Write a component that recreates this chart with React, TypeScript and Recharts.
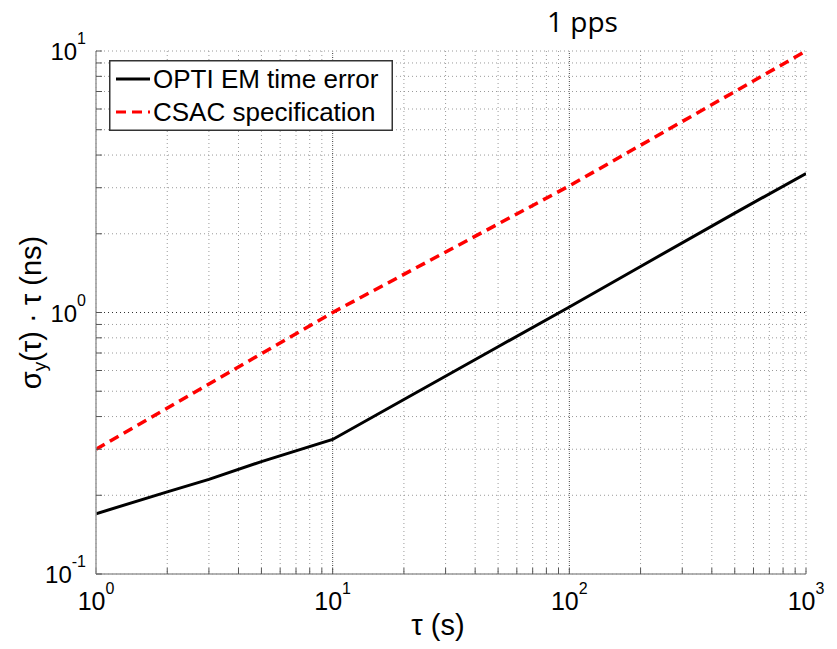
import {
  CartesianGrid,
  Legend,
  Line,
  LineChart,
  ReferenceLine,
  XAxis,
  YAxis,
} from "recharts";

const FONT = '"Liberation Sans", Arial, sans-serif';

// tau (s) and sigma_y(tau)*tau (ns)
const tauOpti = [1, 2, 3, 5, 10, 20, 50, 100, 200, 500, 1000];
const optiError = [0.17, 0.206, 0.23, 0.269, 0.327, 0.465, 0.74, 1.05, 1.5, 2.4, 3.4];

const tauCsac = [1, 10, 100, 1000];
const csacSpec = [0.3, 1.0, 3.05, 10];

const seriesNames = ["OPTI EM time error", "CSAC specification"];

const xTicks = [
  1, 2, 3, 4, 5, 6, 7, 8, 9, 10, 20, 30, 40, 50, 60, 70, 80, 90, 100, 200,
  300, 400, 500, 600, 700, 800, 900, 1000,
];
const yTicks = [
  0.1, 0.2, 0.3, 0.4, 0.5, 0.6, 0.7, 0.8, 0.9, 1, 2, 3, 4, 5, 6, 7, 8, 9, 10,
];
const xMajors = [10, 100];
const yMajors = [1];

const optiData = tauOpti.map((t, i) => ({ tau: t, v: optiError[i] }));
const csacData = tauCsac.map((t, i) => ({ tau: t, v: csacSpec[i] }));

const exponentOf = (v: number) => {
  const e = Math.log10(v);
  const r = Math.round(e);
  return Math.abs(e - r) < 1e-6 ? r : null;
};

function XTick({ x, y, payload }: any) {
  const e = exponentOf(payload.value);
  if (e === null) return null;
  return (
    <text x={x} y={y} dy={18} textAnchor="middle" fontFamily={FONT} fontSize={25} fill="#000">
      10
      <tspan dy={-16} fontSize={16}>
        {e}
      </tspan>
    </text>
  );
}

function YTick({ x, y, payload }: any) {
  const e = exponentOf(payload.value);
  if (e === null) return null;
  return (
    <text x={x} y={y} dy={9} textAnchor="end" fontFamily={FONT} fontSize={24} fill="#000">
      10
      <tspan dy={-16} fontSize={16}>
        {e}
      </tspan>
    </text>
  );
}

function YLabel({ viewBox }: any) {
  const cx = viewBox.x + 31;
  const cy = viewBox.y + viewBox.height / 2;
  return (
    <text
      x={cx}
      y={cy}
      transform={`rotate(-90, ${cx}, ${cy})`}
      textAnchor="middle"
      dominantBaseline="central"
      fontFamily={FONT}
      fontSize={29}
      fill="#000"
    >
      σ
      <tspan dy={8} fontSize={19}>
        y
      </tspan>
      <tspan dy={-8}>(τ) · τ (ns)</tspan>
    </text>
  );
}

function XLabel({ viewBox }: any) {
  return (
    <text
      x={viewBox.x + viewBox.width / 2 - 13}
      y={635}
      textAnchor="middle"
      fontFamily={FONT}
      fontSize={29}
      fill="#000"
    >
      τ (s)
    </text>
  );
}

function LegendBox({ payload }: any) {
  const rows = [...(payload || [])].sort(
    (a: any, b: any) => seriesNames.indexOf(a.value) - seriesNames.indexOf(b.value)
  );
  return (
    <svg width={284} height={71} style={{ display: "block" }}>
      <rect x={0.75} y={0.75} width={282.5} height={69.5} fill="#fff" stroke="#333" strokeWidth={1.5} />
      {rows.map((entry: any, i: number) => {
        const cy = 19 + i * 33;
        return (
          <g key={entry.value}>
            <line
              x1={7}
              x2={41}
              y1={cy}
              y2={cy}
              stroke={entry.color}
              strokeWidth={3}
              strokeDasharray={entry.payload?.strokeDasharray}
            />
            <text x={44} y={cy} dy={9} fontFamily={FONT} fontSize={26} fill="#000">
              {entry.value}
            </text>
          </g>
        );
      })}
    </svg>
  );
}

export default function App() {
  return (
    <div style={{ position: "absolute", left: 0, top: 0, width: 837, height: 649, background: "#fff" }}>
      <LineChart width={837} height={649} margin={{ top: 51, right: 31, bottom: 0, left: 0 }}>
        <CartesianGrid stroke="#9a9a9a" strokeDasharray="1 3" />
        {xMajors.map((v) => (
          <ReferenceLine key={`x${v}`} x={v} stroke="#333" strokeDasharray="1 3" />
        ))}
        {yMajors.map((v) => (
          <ReferenceLine key={`y${v}`} y={v} stroke="#333" strokeDasharray="1 3" />
        ))}
        <XAxis
          dataKey="tau"
          type="number"
          scale="log"
          domain={[1, 1000]}
          allowDataOverflow
          ticks={xTicks}
          interval={0}
          height={75}
          tickSize={-6}
          tickMargin={24}
          tick={<XTick />}
          axisLine={{ stroke: "#999", strokeWidth: 1.5 }}
          tickLine={{ stroke: "#555" }}
          label={<XLabel />}
        />
        <XAxis
          xAxisId="top"
          orientation="top"
          type="number"
          scale="log"
          domain={[1, 1000]}
          allowDataOverflow
          ticks={xTicks}
          interval={0}
          height={0}
          tickSize={-6}
          tick={false}
          axisLine={{ stroke: "#444", strokeWidth: 1.5 }}
          tickLine={{ stroke: "#444" }}
        />
        <YAxis
          type="number"
          scale="log"
          domain={[0.1, 10]}
          allowDataOverflow
          ticks={yTicks}
          interval={0}
          width={96}
          tickSize={-6}
          tickMargin={16}
          tick={<YTick />}
          axisLine={{ stroke: "#999", strokeWidth: 1.5 }}
          tickLine={{ stroke: "#555" }}
          label={<YLabel />}
        />
        <YAxis
          yAxisId="right"
          orientation="right"
          type="number"
          scale="log"
          domain={[0.1, 10]}
          allowDataOverflow
          ticks={yTicks}
          interval={0}
          width={0}
          tickSize={-6}
          tick={false}
          axisLine={{ stroke: "#444", strokeWidth: 1.5 }}
          tickLine={{ stroke: "#444" }}
        />
        <Line
          data={optiData}
          dataKey="v"
          name={seriesNames[0]}
          type="linear"
          stroke="#000"
          strokeWidth={3}
          dot={false}
          activeDot={false}
          isAnimationActive={false}
        />
        <Line
          data={csacData}
          dataKey="v"
          name={seriesNames[1]}
          type="linear"
          stroke="#ff0000"
          strokeWidth={3.5}
          strokeDasharray="10 6"
          dot={false}
          activeDot={false}
          isAnimationActive={false}
        />
        <Legend
          layout="vertical"
          align="center"
          verticalAlign="middle"
          wrapperStyle={{ left: 109, top: 60, width: 284 }}
          content={<LegendBox />}
        />
      </LineChart>
      <svg width={837} height={50} style={{ position: "absolute", left: 0, top: 0, pointerEvents: "none" }}>
        <text x={547} y={32} fontFamily='"Open Sans", sans-serif' fontSize={28} fill="#000">
          1 pps
        </text>
      </svg>
    </div>
  );
}
